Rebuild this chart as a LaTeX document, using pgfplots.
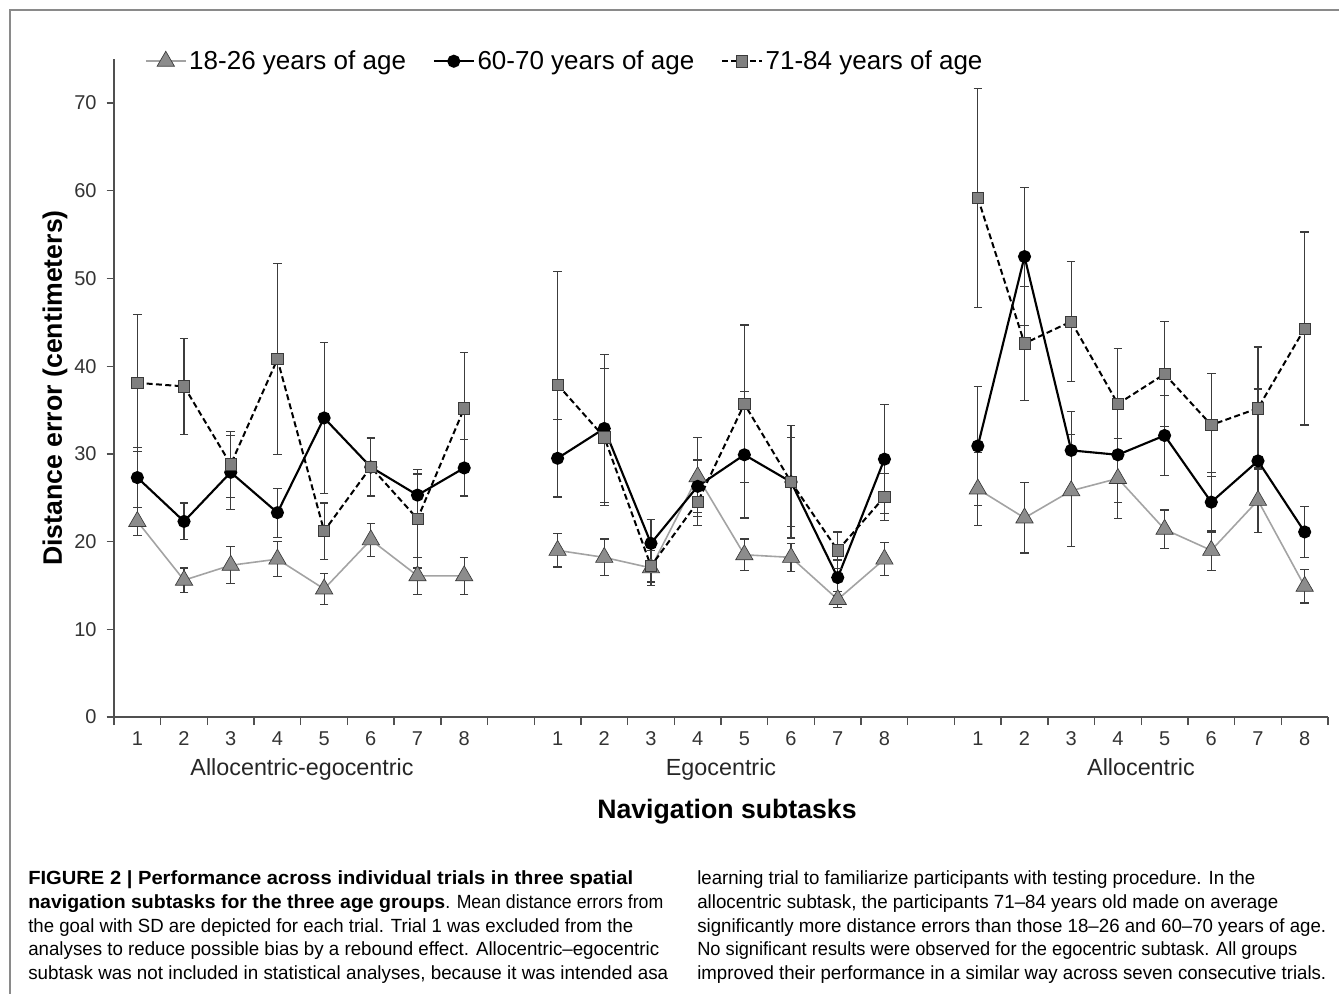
\documentclass[border=0pt]{standalone}
\usepackage{pgfplots}
\pgfplotsset{compat=1.18}
\usepackage{pgfplotstable}
\usepackage{graphicx}
\usepackage{fontspec}
\setmainfont{Liberation Sans}

\newlength\px
\setlength\px{0.75pt}

\definecolor{trifill}{HTML}{8C8C8C}
\definecolor{triline}{HTML}{A3A3A3}
\definecolor{sqfill}{HTML}{808080}
\definecolor{edge}{HTML}{3A3A3A}
\definecolor{errc}{HTML}{3C3C3C}
\definecolor{axisc}{HTML}{505050}
\definecolor{framec}{HTML}{8A8A8A}

% trial, mean distance error, SD (gap columns 9 and 18 separate the subtasks)
\pgfplotstableread{
x y e
1 22.3 1.6
2 15.6 1.4
3 17.3 2.1
4 18.0 2.0
5 14.6 1.8
6 20.2 1.9
7 16.1 2.1
8 16.1 2.1
10 19.0 1.9
11 18.2 2.1
12 17.0 2.0
13 27.4 4.5
14 18.5 1.8
15 18.2 1.6
16 13.4 0.9
17 18.0 1.9
19 26.0 4.2
20 22.7 4.0
21 25.8 6.4
22 27.2 4.6
23 21.4 2.2
24 19.0 2.3
25 24.7 3.7
26 14.9 1.9
}\tabyoung

\pgfplotstableread{
x y e
1 27.3 3.4
2 22.3 2.1
3 27.9 4.2
4 23.3 2.8
5 34.1 8.6
6 28.5 3.3
7 25.3 2.4
8 28.4 3.2
10 29.5 4.4
11 32.9 8.4
12 19.8 2.7
13 26.3 3.0
14 29.9 7.2
15 26.8 6.4
16 15.9 2.0
17 29.4 6.2
19 30.9 6.8
20 52.5 7.9
21 30.4 4.4
22 29.9 5.4
23 32.1 4.6
24 24.5 3.4
25 29.2 8.2
26 21.1 2.9
}\tabmid

\pgfplotstableread{
x y e
1 38.1 7.8
2 37.7 5.5
3 28.8 3.8
4 40.8 10.9
5 21.2 3.2
6 28.5 3.4
7 22.6 5.6
8 35.2 6.4
10 37.9 12.9
11 31.9 7.8
12 17.2 1.8
13 24.5 2.7
14 35.7 9.0
15 26.8 5.1
16 19.0 2.1
17 25.1 2.7
19 59.2 12.5
20 42.6 6.5
21 45.1 6.8
22 35.7 6.3
23 39.1 6.0
24 33.3 5.9
25 35.2 7.0
26 44.3 11.0
}\tabold

\pgfplotsset{
  sdbars/.style={
    error bars/y dir=both, error bars/y explicit,
    error bars/error bar style={solid, line width=0.9pt, errc},
    error bars/error mark options={solid, rotate=90, mark size=3.2pt, line width=0.9pt, errc}},
  youngline/.style={triline, line width=1.2pt, mark=triangle*, mark size=7.5pt,
    mark options={solid, fill=trifill, draw=edge, line width=0.5pt}, sdbars},
  midline/.style={black, line width=1.6pt, mark=*, mark size=4.1pt,
    mark options={solid, fill=black}, sdbars},
  oldline/.style={black, line width=1.5pt, dash pattern=on 4.5pt off 2.5pt,
    mark=square*, mark size=4.2pt,
    mark options={solid, fill=sqfill, draw=edge, line width=0.5pt}, sdbars},
}

\newcommand\capline[2]{\resizebox{#1\px}{\height}{#2}}

\begin{document}
\begin{tikzpicture}
\begin{axis}[
  at={(85.5pt,-537.75pt)}, anchor=south west,
  scale only axis, width=910.5pt, height=493.3pt,
  xmin=0.5, xmax=26.5, ymin=0, ymax=75,
  axis x line=bottom, axis y line=left,
  axis line style={-, line width=1pt, axisc},
  tick align=outside,
  major tick length=5.5pt, minor tick length=6pt,
  tick style={line width=1pt, axisc},
  xtick={1,2,3,4,5,6,7,8,10,11,12,13,14,15,16,17,19,20,21,22,23,24,25,26},
  xticklabels={1,2,3,4,5,6,7,8,1,2,3,4,5,6,7,8,1,2,3,4,5,6,7,8},
  major x tick style={draw=none},
  minor xtick={0.5,1.5,...,26.5},
  ytick={0,10,...,70},
  /pgf/number format/assume math mode=true,
  tick label style={font=\fontsize{15}{18}\selectfont, text=black!80},
  x tick label style={yshift=-2pt},
  y tick label style={xshift=-4pt},
  legend columns=3,
  legend cell align=left,
  legend style={draw=none, fill=none, at={(0.022,0.997)}, anchor=west,
    font=\fontsize{19.5}{23}\selectfont,
    /tikz/every even column/.append style={column sep=18pt}},
  legend image code/.code={\draw[mark repeat=2, mark phase=2, #1]
    plot coordinates {(0pt,0pt) (15pt,0pt) (30pt,0pt)};},
]
\addplot[restrict x to domain=0:9, youngline] table[x=x, y=y, y error=e] {\tabyoung};
\addlegendentry{18-26 years of age}
\addplot[restrict x to domain=9:18, forget plot, youngline] table[x=x, y=y, y error=e] {\tabyoung};
\addplot[restrict x to domain=18:27, forget plot, youngline] table[x=x, y=y, y error=e] {\tabyoung};

\addplot[restrict x to domain=0:9, midline] table[x=x, y=y, y error=e] {\tabmid};
\addlegendentry{60-70 years of age}
\addplot[restrict x to domain=9:18, forget plot, midline] table[x=x, y=y, y error=e] {\tabmid};
\addplot[restrict x to domain=18:27, forget plot, midline] table[x=x, y=y, y error=e] {\tabmid};

\addplot[restrict x to domain=0:9, oldline] table[x=x, y=y, y error=e] {\tabold};
\addlegendentry{71-84 years of age}
\addplot[restrict x to domain=9:18, forget plot, oldline] table[x=x, y=y, y error=e] {\tabold};
\addplot[restrict x to domain=18:27, forget plot, oldline] table[x=x, y=y, y error=e] {\tabold};
\end{axis}

% pixel coordinates of the 1339 x 994 figure, origin top left
\begin{scope}[x=0.75pt, y=-0.75pt]
  \path[use as bounding box] (0,0) rectangle (1339,994);
  \draw[framec, line width=1.5pt] (10,994) -- (10,10) -- (1339,10);

  \node[rotate=90, font=\bfseries\fontsize{20}{24}\selectfont] at (55,388)
    {Distance error (centimeters)};
  \node[anchor=base, font=\bfseries\fontsize{20}{24}\selectfont] at (727,818) {Navigation subtasks};
  \begin{scope}[every node/.style={anchor=base, font=\fontsize{17.5}{20}\selectfont, text=black!85}]
    \node at (302,775) {Allocentric-egocentric};
    \node at (721,775) {Egocentric};
    \node at (1141,775) {Allocentric};
  \end{scope}

  \begin{scope}[every node/.style={anchor=base west, inner sep=0pt,
      font=\fontsize{14.3}{17}\selectfont}]
    \node at (28,884) {\capline{605}{\textbf{FIGURE 2 | Performance across individual trials in three spatial}}};
    \node at (28,908) {\capline{417}{\textbf{navigation subtasks for the three age groups}}\capline{218}{. Mean distance errors from}};
    \node at (28,932) {\capline{605}{the goal with SD are depicted for each trial. Trial 1 was excluded from the}};
    \node at (28,955.5) {\capline{631}{analyses to reduce possible bias by a rebound effect. Allocentric–egocentric}};
    \node at (28,979) {\capline{640}{subtask was not included in statistical analyses, because it was intended asa}};

    \node at (697,884) {\capline{558}{learning trial to familiarize participants with testing procedure. In the}};
    \node at (697,908) {\capline{581}{allocentric subtask, the participants 71–84 years old made on average}};
    \node at (697,932) {\capline{629}{significantly more distance errors than those 18–26 and 60–70 years of age.}};
    \node at (697,955.5) {\capline{600}{No significant results were observed for the egocentric subtask. All groups}};
    \node at (697,979) {\capline{629}{improved their performance in a similar way across seven consecutive trials.}};
  \end{scope}
\end{scope}
\end{tikzpicture}
\end{document}
